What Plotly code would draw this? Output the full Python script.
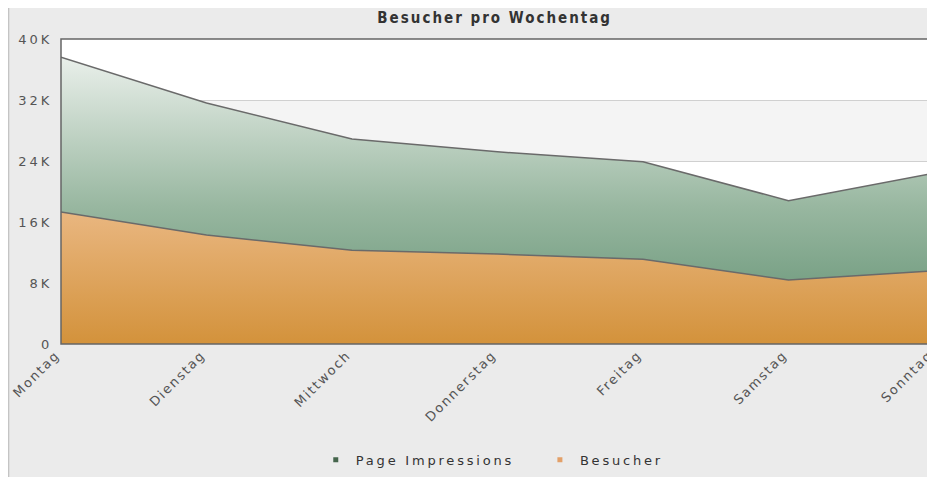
import plotly.graph_objects as go

days = ["Montag", "Dienstag", "Mittwoch", "Donnerstag", "Freitag", "Samstag", "Sonntag"]
page_impressions = [37600, 31600, 26900, 25200, 23900, 18800, 22400]
besucher = [17300, 14300, 12300, 11800, 11100, 8400, 9600]
y_ticks = [0, 8000, 16000, 24000, 32000, 40000]
y_tick_labels = ["0", "8K", "16K", "24K", "32K", "40K"]


def spaced(text, px):
    return f"<span style='letter-spacing:{px}px'>{text}</span>"


fig = go.Figure()

fig.add_trace(go.Scatter(
    x=days, y=page_impressions, name="Page Impressions", mode="lines",
    fill="tozeroy", showlegend=False,
    line=dict(color="#6a6a6a", width=1.5),
    fillgradient=dict(type="vertical", start=0, stop=40000,
                      colorscale=[[0, "#5f8f70"], [0.45, "#98b7a0"], [1, "#f3f6f3"]]),
    fillcolor="#4e6e55",
))
fig.add_trace(go.Scatter(
    x=days, y=besucher, name="Besucher", mode="lines",
    fill="tozeroy", showlegend=False,
    line=dict(color="#6a6a6a", width=1.5),
    fillgradient=dict(type="vertical", start=0, stop=18000,
                      colorscale=[[0, "#d3923b"], [1, "#eab883"]]),
    fillcolor="#e3a060",
))
# legend entries (small square markers, as in the reference)
fig.add_trace(go.Scatter(x=[None], y=[None], mode="markers",
                         name=spaced("Page Impressions" + "\u00a0" * 3, 2.8),
                         marker=dict(symbol="square", size=5, color="#45654c")))
fig.add_trace(go.Scatter(x=[None], y=[None], mode="markers",
                         name=spaced("Besucher", 2.8),
                         marker=dict(symbol="square", size=5, color="#e3a068")))

shapes = []
for i in range(len(y_ticks) - 1):
    if i % 2 == 1:
        shapes.append(dict(type="rect", xref="paper", yref="y", x0=0, x1=1,
                           y0=y_ticks[i], y1=y_ticks[i + 1],
                           fillcolor="#f4f4f4", line_width=0, layer="below"))
shapes.append(dict(type="line", xref="paper", yref="paper", x0=-0.0601, x1=-0.0601,
                   y0=-0.5, y1=1.2, line=dict(color="#c4c4c4", width=1.5), layer="below"))
shapes.append(dict(type="rect", xref="paper", yref="paper", x0=0, x1=1, y0=0, y1=1,
                   line=dict(color="#666666", width=1.5), layer="above"))

fig.update_layout(
    width=927, height=469,
    margin=dict(l=53, r=1, t=31, b=133, autoexpand=False),
    paper_bgcolor="#ebebeb",
    plot_bgcolor="#ffffff",
    title=dict(text="<b>" + spaced("Besucher pro Wochentag", 2.0) + "</b>",
               x=0.525, xanchor="center", y=0.979, yanchor="middle",
               font=dict(family="DejaVu Sans Condensed, DejaVu Sans", size=15, color="#333333")),
    showlegend=True,
    legend=dict(orientation="h", x=0.494, xanchor="center", y=-0.38, yanchor="middle",
                font=dict(family="DejaVu Sans", size=13, color="#333333"),
                bgcolor="rgba(0,0,0,0)", itemwidth=30, tracegroupgap=0),
    shapes=shapes,
    font=dict(family="DejaVu Sans", color="#555555"),
)
fig.update_xaxes(
    type="category", range=[0, len(days) - 1], showgrid=False, tickangle=-45,
    tickvals=days, ticktext=[spaced(d, 1.8) for d in days],
    tickfont=dict(family="DejaVu Sans", size=13, color="#555555"),
    ticks="", ticklabelshift=-5,
    showline=False, zeroline=False, automargin=False,
)
fig.update_yaxes(
    range=[0, 40000], tickvals=y_ticks, ticktext=[spaced(t, 3) for t in y_tick_labels],
    showgrid=True, gridcolor="#d0d0d0", gridwidth=1, zeroline=False,
    tickfont=dict(family="DejaVu Sans", size=13, color="#555555"),
    ticks="outside", ticklen=5, tickcolor="rgba(0,0,0,0)",
    showline=False, layer="above traces", automargin=False,
)

fig.write_html("out.html")
